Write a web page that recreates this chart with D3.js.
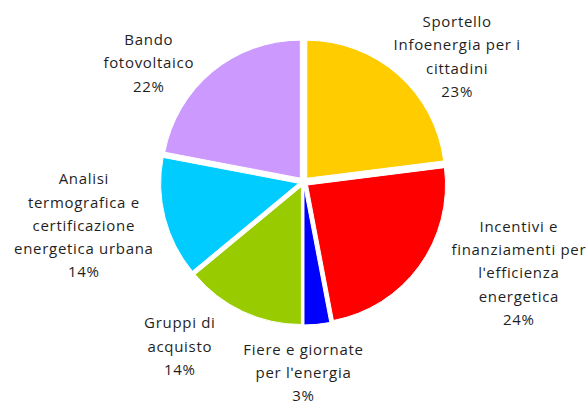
<!DOCTYPE html>
<html>
<head>
<meta charset="utf-8">
<script src="https://cdn.jsdelivr.net/npm/d3@7"></script>
<style>
  html, body { margin: 0; padding: 0; background: #ffffff; }
  svg { display: block; }
</style>
</head>
<body>
<svg id="chart" width="587" height="405"></svg>
<script>
// ---- data ----
const categories = [
  "Sportello Infoenergia per i cittadini",
  "Incentivi e finanziamenti per l\u2019efficienza energetica",
  "Fiere e giornate per l\u2019energia",
  "Gruppi di acquisto",
  "Analisi termografica e certificazione energetica urbana",
  "Bando fotovoltaico"
];
const labelLines = [
  ["Sportello", "Infoenergia per i", "cittadini"],
  ["Incentivi e", "finanziamenti per", "l\u02b9efficienza", "energetica"],
  ["Fiere e giornate", "per l\u02b9energia"],
  ["Gruppi di", "acquisto"],
  ["Analisi", "termografica e", "certificazione", "energetica urbana"],
  ["Bando", "fotovoltaico"]
];
const values = [23, 24, 3, 14, 14, 22];
const colors = ["#FFCC00", "#FF0000", "#0000FF", "#99CC00", "#00CCFF", "#CC99FF"];

// ---- layout ----
const cx = 303.5, cy = 182, radius = 138, explode = 5;
const lineH = 23.3;
// label block centres, in polar form relative to the pie centre (angle in degrees from 12 o'clock, distance in px)
const labelPolar = [
  [50.9, 198], [113, 234], [180, 191], [216.9, 206], [258.7, 224], [307.5, 195]
];

const svg = d3.select("#chart");
const g = svg.append("g").attr("transform", `translate(${cx},${cy})`);

const pie = d3.pie().sort(null).value(d => d)(values);
const arc = d3.arc().innerRadius(0).outerRadius(radius);

g.selectAll("path.slice")
  .data(pie)
  .join("path")
  .attr("class", "slice")
  .attr("d", arc)
  .attr("fill", (d, i) => colors[i])
  .attr("stroke", "#ffffff")
  .attr("stroke-width", 1)
  .attr("transform", d => {
    const a = (d.startAngle + d.endAngle) / 2;
    return `translate(${explode * Math.sin(a)},${-explode * Math.cos(a)})`;
  });

const total = d3.sum(values);
const fmt = v => Math.round(v / total * 100) + "%";

const labels = g.selectAll("text.lbl")
  .data(pie)
  .join("text")
  .attr("class", "lbl")
  .attr("font-family", "'Open Sans', 'Liberation Sans', sans-serif")
  .attr("font-size", 15)
  .attr("letter-spacing", 0.7)
  .attr("fill", "#1f1f1f")
  .attr("text-anchor", "middle");

labels.each(function(d, i) {
  const lines = labelLines[i].concat([fmt(d.data)]);
  const [ang, dist] = labelPolar[i];
  const a = ang * Math.PI / 180;
  const x = dist * Math.sin(a), y = -dist * Math.cos(a);
  const top = y - (lines.length - 1) * lineH / 2;
  d3.select(this).selectAll("tspan")
    .data(lines)
    .join("tspan")
    .attr("x", x)
    .attr("y", (l, k) => top + k * lineH + 5)
    .text(l => l);
});
</script>
</body>
</html>
